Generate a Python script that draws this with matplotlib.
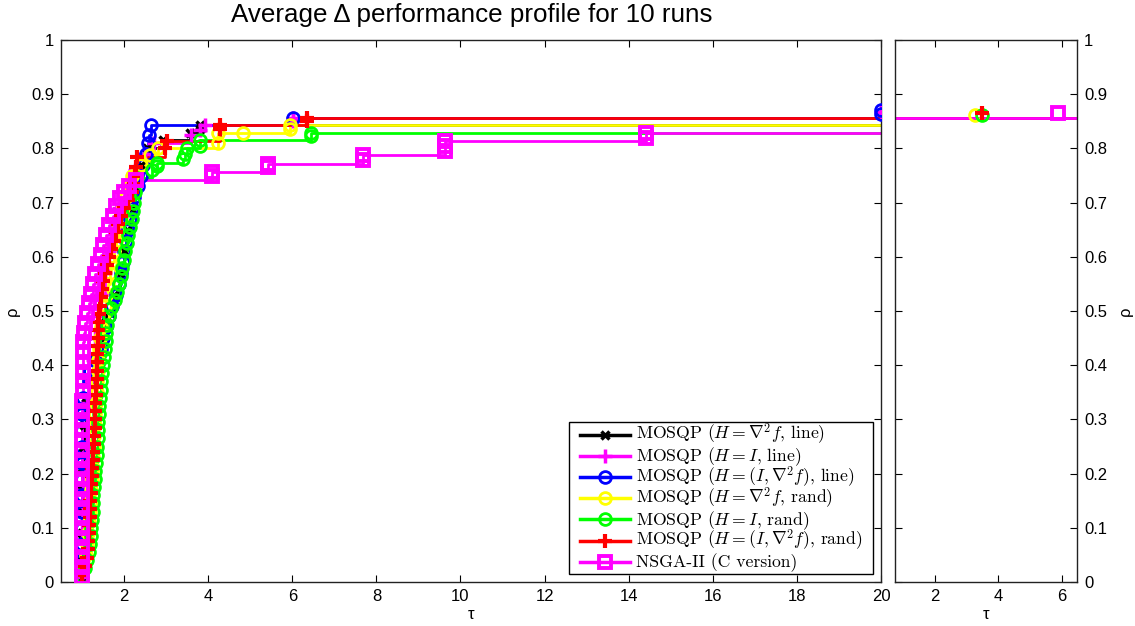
import numpy as np
import matplotlib
matplotlib.use("Agg")
import matplotlib.pyplot as plt
from matplotlib.lines import Line2D
from matplotlib.patches import Rectangle

plt.rcParams['font.family'] = ['Liberation Sans', 'DejaVu Sans']
plt.rcParams['mathtext.fontset'] = 'cm'

# ---- data: (tau, rho) step points per solver ----
tau_black = [1.00, 1.00, 1.00, 1.00, 1.00, 1.01, 1.02, 1.04, 1.10, 1.20, 1.32, 1.45, 1.58,
             1.75, 1.90, 2.00, 2.08, 2.16, 2.25, 2.40, 2.55, 2.93, 3.57, 3.81, 3.81]
rho_black = [0.010, 0.050, 0.090, 0.130, 0.170, 0.210, 0.250, 0.290, 0.330, 0.370, 0.410, 0.450, 0.490,
             0.530, 0.570, 0.610, 0.650, 0.690, 0.730, 0.770, 0.800, 0.815, 0.828, 0.836, 0.843]

tau_mag_line = [1.00, 1.00, 1.01, 1.02, 1.04, 1.06, 1.09, 1.12, 1.16, 1.20, 1.25, 1.31, 1.38, 1.46,
                1.55, 1.65, 1.76, 1.88, 2.05, 2.25, 2.50, 2.70, 3.60, 3.81, 3.93, 6.02, 6.02, 20.0]
rho_mag_line = [0.010, 0.050, 0.090, 0.130, 0.170, 0.210, 0.250, 0.290, 0.330, 0.370, 0.410, 0.450, 0.490, 0.530,
                0.570, 0.610, 0.650, 0.690, 0.730, 0.760, 0.790, 0.810, 0.825, 0.834, 0.843, 0.850, 0.857, 0.867]

tau_blue = [1.00, 1.00, 1.00, 1.00, 1.00, 1.00, 1.00, 1.00, 1.00, 1.00, 1.01, 1.03, 1.17, 1.20, 1.33,
            1.44, 1.50, 1.56, 1.63, 1.72, 1.80, 1.87, 1.92, 1.97, 2.01, 2.05, 2.09, 2.13, 2.18, 2.24,
            2.32, 2.40, 2.46, 2.52, 2.57, 2.60, 2.64, 6.02, 20.0, 20.0]
rho_blue = [0.010, 0.040, 0.070, 0.100, 0.130, 0.160, 0.190, 0.220, 0.250, 0.280, 0.310, 0.340, 0.370, 0.390, 0.410,
            0.430, 0.450, 0.470, 0.490, 0.510, 0.530, 0.550, 0.570, 0.590, 0.610, 0.630, 0.650, 0.670, 0.690, 0.710,
            0.730, 0.750, 0.770, 0.790, 0.810, 0.825, 0.843, 0.857, 0.864, 0.871]

tau_yellow = [1.00, 1.04, 1.09, 1.13, 1.15, 1.17, 1.19, 1.21, 1.22, 1.24, 1.25, 1.27, 1.28, 1.29, 1.31,
              1.32, 1.33, 1.35, 1.36, 1.37, 1.39, 1.41, 1.43, 1.46, 1.50, 1.54, 1.58, 1.62, 1.66, 1.70,
              1.75, 1.80, 1.86, 1.92, 1.98, 2.05, 2.12, 2.20, 2.40, 2.62, 2.80, 4.24, 4.24, 4.83, 5.95, 5.95]
rho_yellow = [0.010, 0.030, 0.050, 0.070, 0.090, 0.110, 0.130, 0.150, 0.170, 0.190, 0.210, 0.230, 0.250, 0.270, 0.290,
              0.310, 0.330, 0.350, 0.370, 0.390, 0.410, 0.430, 0.450, 0.470, 0.490, 0.510, 0.530, 0.550, 0.570, 0.590,
              0.610, 0.630, 0.650, 0.670, 0.690, 0.710, 0.730, 0.750, 0.770, 0.788, 0.800, 0.810, 0.828, 0.828, 0.836, 0.843]

tau_green = [1.00, 1.06, 1.12, 1.16, 1.19, 1.21, 1.22, 1.23, 1.25, 1.26, 1.27, 1.28, 1.30, 1.31, 1.33,
             1.35, 1.36, 1.37, 1.38, 1.39, 1.40, 1.41, 1.43, 1.44, 1.46, 1.48, 1.50, 1.52, 1.54, 1.56,
             1.58, 1.60, 1.64, 1.70, 1.78, 1.84, 1.88, 1.92, 1.95, 1.99, 2.03, 2.06, 2.10, 2.14, 2.18,
             2.21, 2.24, 2.27, 2.30, 2.67, 2.79, 2.79, 3.40, 3.45, 3.50, 3.81, 3.81, 6.45, 6.45]
rho_green = [0.010, 0.025, 0.040, 0.055, 0.070, 0.085, 0.100, 0.115, 0.130, 0.145, 0.160, 0.175, 0.190, 0.205, 0.220,
             0.235, 0.250, 0.265, 0.280, 0.295, 0.310, 0.325, 0.340, 0.355, 0.370, 0.385, 0.400, 0.415, 0.430, 0.445,
             0.460, 0.475, 0.490, 0.505, 0.520, 0.535, 0.550, 0.565, 0.580, 0.595, 0.610, 0.625, 0.640, 0.655, 0.670,
             0.685, 0.700, 0.720, 0.745, 0.760, 0.767, 0.773, 0.780, 0.790, 0.800, 0.805, 0.815, 0.822, 0.829]

tau_red = [1.00, 1.08, 1.12, 1.14, 1.15, 1.16, 1.17, 1.18, 1.19, 1.20, 1.21, 1.22, 1.23, 1.24, 1.25,
           1.27, 1.28, 1.29, 1.30, 1.30, 1.31, 1.32, 1.33, 1.34, 1.35, 1.35, 1.36, 1.36, 1.37, 1.37,
           1.38, 1.39, 1.41, 1.42, 1.44, 1.47, 1.51, 1.55, 1.60, 1.65, 1.70, 1.75, 1.80, 1.86, 1.92,
           2.00, 2.10, 2.18, 2.23, 2.26, 2.28, 2.31, 2.98, 3.02, 4.28, 4.28, 6.36, 6.36]
rho_red = [0.013, 0.030, 0.045, 0.060, 0.075, 0.090, 0.105, 0.120, 0.135, 0.150, 0.165, 0.180, 0.195, 0.210, 0.225,
           0.240, 0.255, 0.270, 0.285, 0.300, 0.315, 0.330, 0.345, 0.360, 0.375, 0.390, 0.405, 0.420, 0.435, 0.450,
           0.465, 0.480, 0.495, 0.510, 0.525, 0.540, 0.555, 0.570, 0.585, 0.600, 0.615, 0.630, 0.645, 0.660, 0.675,
           0.690, 0.705, 0.720, 0.735, 0.750, 0.765, 0.785, 0.800, 0.814, 0.836, 0.843, 0.850, 0.857]

tau_nsga = [1.00, 1.00, 1.00, 1.00, 1.00, 1.00, 1.00, 1.00, 1.00, 1.00, 1.00, 1.00, 1.00,
            1.00, 1.00, 1.01, 1.01, 1.01, 1.01, 1.02, 1.02, 1.02, 1.03, 1.03, 1.03,
            1.04, 1.07, 1.12, 1.17, 1.22, 1.27, 1.32, 1.38, 1.44, 1.50, 1.58, 1.65, 1.73, 1.81,
            1.90, 2.00, 2.12, 2.28, 4.10, 4.10, 5.43, 5.43, 7.69, 7.69, 9.64, 9.64, 9.64, 14.4, 14.4]
rho_nsga = [0.010, 0.028, 0.046, 0.064, 0.082, 0.100, 0.118, 0.136, 0.154, 0.172, 0.190, 0.208, 0.226,
            0.244, 0.262, 0.280, 0.298, 0.316, 0.334, 0.352, 0.370, 0.388, 0.406, 0.424, 0.442,
            0.460, 0.478, 0.496, 0.514, 0.532, 0.550, 0.568, 0.586, 0.604, 0.622, 0.640, 0.658, 0.676, 0.694,
            0.708, 0.720, 0.730, 0.742, 0.750, 0.757, 0.765, 0.772, 0.779, 0.787, 0.795, 0.805, 0.814, 0.820, 0.829]

# right panel (tail): common level and the few extra points
tail_level = 0.857
tail_tau = {'yellow': [3.26], 'green': [3.48], 'red': [3.48], 'nsga': [5.87]}
tail_rho = {'yellow': [0.862], 'green': [0.862], 'red': [0.866], 'nsga': [0.866]}

series = [
    ('black', tau_black, rho_black, 'k', 'x', 6, 2.5,
     r'MOSQP ($H = \nabla^2 f$, line)'),
    ('magline', tau_mag_line, rho_mag_line, '#ff00ff', '+', 10, 2.5,
     r'MOSQP ($H = I$, line)'),
    ('blue', tau_blue, rho_blue, '#0000ff', 'o', 8.5, 2.0,
     r'MOSQP ($H = (I, \nabla^2 f)$, line)'),
    ('yellow', tau_yellow, rho_yellow, '#ffff00', 'o', 8.5, 2.0,
     r'MOSQP ($H = \nabla^2 f$, rand)'),
    ('green', tau_green, rho_green, '#00ff00', 'o', 8.5, 2.0,
     r'MOSQP ($H = I$, rand)'),
    ('red', tau_red, rho_red, '#ff0000', '+', 10, 3.0,
     r'MOSQP ($H = (I, \nabla^2 f)$, rand)'),
    ('nsga', tau_nsga, rho_nsga, '#ff00ff', 's', 8.5, 2.8,
     'NSGA-II (C version)'),
]

tau_max = 20.0
tail_lim = (0.74, 6.48)
W, H = 1135, 626

fig = plt.figure(figsize=(11.35, 6.26), dpi=100)
ax = fig.add_axes([61/W, 1-582/H, 820/W, 542/H])
ax2 = fig.add_axes([895/W, 1-582/H, 182/W, 542/H])

def px(x, y):
    # pixel position (from top-left) -> figure fraction
    return x / W, 1 - y / H

# legend drawn by hand so the rows are evenly spaced like the original
x0, y0 = px(569, 574)
x1, y1 = px(873, 422)
fig.add_artist(Rectangle((x0, y0), x1 - x0, y1 - y0, transform=fig.transFigure,
                         facecolor='white', edgecolor='k', lw=1.0, zorder=5))
row0, row_step = 434.5, 21.2

for i, (key, t, r, c, m, ms, mew, lab) in enumerate(series):
    t = np.asarray(t)
    r = np.asarray(r)
    ax.plot(np.append(t, tau_max), np.append(r, r[-1]), color=c, lw=2,
            drawstyle='steps-post', zorder=2)
    ax.plot(t, r, ls='none', marker=m, ms=ms, mew=mew, mec=c, mfc='none', zorder=3)
    # tail panel
    ax2.plot(tail_lim, [tail_level, tail_level], color=c, lw=2, zorder=2)
    if key in tail_tau:
        ax2.plot(tail_tau[key], tail_rho[key], ls='none', marker=m, ms=ms, mew=mew,
                 mec=c, mfc='none', zorder=3)
    # legend row
    yrow = row0 + i * row_step
    la, lb = px(580, yrow)
    lc, _ = px(630, yrow)
    fig.add_artist(Line2D([la, lc], [lb, lb], transform=fig.transFigure, color=c, lw=2.5, zorder=6))
    mx, _ = px(605, yrow)
    fig.add_artist(Line2D([mx], [lb], transform=fig.transFigure, ls='none', marker=m, ms=ms,
                          mew=mew, mec=c, mfc='none', zorder=6))
    tx, ty = px(636, yrow + 5.5)
    fig.text(tx, ty, lab, family=['cmr10', 'DejaVu Serif'], fontsize=12.7,
             ha='left', va='baseline', zorder=7)

yt = np.round(np.arange(0, 1.01, 0.1), 1)
ax.set_xlim(0.5, tau_max)
ax.set_ylim(0, 1)
ax.set_xticks(np.arange(2, 21, 2))
ax.set_yticks(yt)
ax.set_yticklabels(['%g' % v for v in yt])
ax.set_xlabel('τ', fontsize=12, labelpad=2)
ax.set_ylabel('ρ', fontsize=12, labelpad=8)
fig.text(472/W, 1-15/H, 'Average Δ performance profile for 10 runs', fontsize=18.7,
         ha='center', va='center')

ax2.set_xlim(*tail_lim)
ax2.set_ylim(0, 1)
ax2.set_xticks([2, 4, 6])
ax2.set_yticks(yt)
ax2.set_yticklabels(['%g' % v for v in yt])
ax2.yaxis.tick_right()
ax2.yaxis.set_label_position('right')
ax2.set_xlabel('τ', fontsize=12, labelpad=2)
ax2.set_ylabel('ρ', fontsize=12, labelpad=8)

for a in (ax, ax2):
    a.tick_params(direction='in', top=True, right=True, left=True, bottom=True,
                  length=5, width=0.8, labelsize=12, pad=5)
    for s in a.spines.values():
        s.set_linewidth(1.0)
        s.set_color('#222222')
ax2.tick_params(labelleft=False, labelright=True)

fig.savefig('out.png', dpi=100)
